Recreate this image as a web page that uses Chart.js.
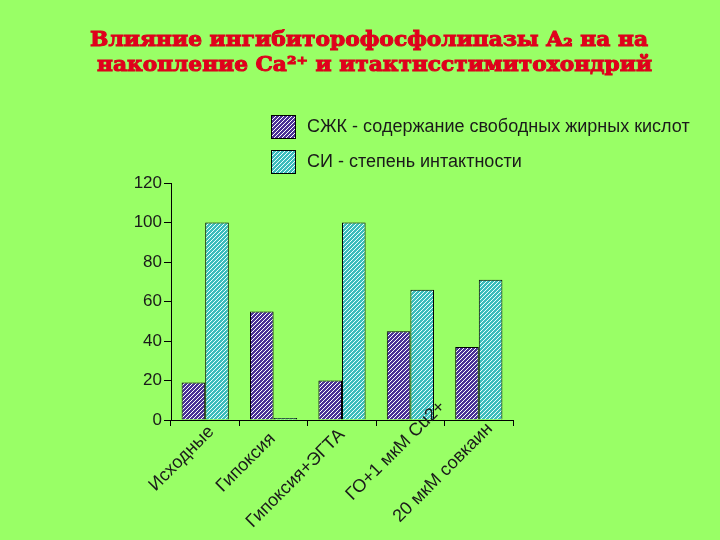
<!DOCTYPE html>
<html>
<head>
<meta charset="utf-8">
<title>Влияние ингибитора фосфолипазы A2</title>
<script src="https://cdn.jsdelivr.net/npm/chart.js@4.4.1/dist/chart.umd.min.js"></script>
<style>
    html, body {
        margin: 0;
        padding: 0;
        background: #99ff66;
    }
    .chart-box {
        position: relative;
        width: 720px;
        height: 540px;
    }
</style>
</head>
<body>
<div class="chart-box">
    <canvas id="chart"></canvas>
</div>
<script>
const titleLines = [
    "Влияние ингибиторофосфолипазы A₂ на на",
    "накопление Ca²⁺ и итактнсстимитохондрий"
];
const categories = ["Исходные", "Гипоксия", "Гипоксия+ЭГТА", "ГО+1 мкМ Cu2+", "20 мкМ совкаин"];
const seriesNames = ["СЖК - содержание свободных жирных кислот", "СИ - степень интактности"];
const ffaValues = [19, 55, 20, 45, 37];
const intactValues = [100, 1, 100, 66, 71];
const yTicks = [0, 20, 40, 60, 80, 100, 120];

// label nudges (px) to mimic the staggered slide labels
const labelShift = [[6, 9], [-1, 16], [0, 12], [32, -16], [11, 6]];

function makeHatch(base, line) {
    const tile = document.createElement("canvas");
    tile.width = 4;
    tile.height = 4;
    const ctx = tile.getContext("2d");
    ctx.fillStyle = base;
    ctx.fillRect(0, 0, 4, 4);
    ctx.fillStyle = line;
    for (let i = 0; i < 4; i++) {
        ctx.fillRect(i, 3 - i, 1, 1);
    }
    return ctx.createPattern(tile, "repeat");
}

const purpleHatch = makeHatch("#4a3296", "#ffffff");
const cyanHatch = makeHatch("#3cbcbc", "#e8ffff");

const decorPlugin = {
    id: "decor",
    afterDraw(chart) {
        const ctx = chart.ctx;
        const xScale = chart.scales.x;

        // title
        ctx.save();
        ctx.fillStyle = "#e0001c";
        ctx.strokeStyle = "#d8001a";
        ctx.lineWidth = 1;
        ctx.textAlign = "left";
        ctx.textBaseline = "alphabetic";
        const titleBoxes = [[90, 46, 558], [97, 71, 555]];
        titleLines.forEach((line, i) => {
            const [x, y, w] = titleBoxes[i];
            ctx.font = "bold 21px 'DejaVu Serif'";
            const measured = ctx.measureText(line).width;
            ctx.save();
            ctx.translate(x, y);
            ctx.scale(w / measured, 1);
            ctx.strokeText(line, 0, 0);
            ctx.fillText(line, 0, 0);
            ctx.restore();
        });
        ctx.restore();

        // legend
        ctx.save();
        ctx.font = "18px 'Liberation Sans'";
        ctx.textBaseline = "middle";
        ctx.textAlign = "left";
        chart.data.datasets.forEach((ds, i) => {
            const top = 115 + i * 35;
            ctx.fillStyle = ds.backgroundColor;
            ctx.fillRect(271, top, 25, 24);
            ctx.strokeStyle = "#000";
            ctx.lineWidth = 1;
            ctx.strokeRect(271.5, top + 0.5, 24, 23);
            ctx.fillStyle = "#1a1a1a";
            ctx.fillText(ds.label, 307, top + 12);
        });
        ctx.restore();

        // rotated category labels
        ctx.save();
        ctx.font = "18px 'Liberation Sans'";
        ctx.fillStyle = "#1a1a1a";
        ctx.textAlign = "right";
        ctx.textBaseline = "middle";
        chart.data.labels.forEach((label, i) => {
            const x = xScale.getPixelForValue(i) + labelShift[i][0];
            const y = xScale.top + labelShift[i][1];
            ctx.save();
            ctx.translate(x, y);
            ctx.rotate(-Math.PI / 4);
            ctx.fillText(label, 0, 0);
            ctx.restore();
        });
        ctx.restore();
    }
};

new Chart(document.getElementById("chart"), {
    type: "bar",
    data: {
        labels: categories,
        datasets: [
            {
                label: seriesNames[0],
                data: ffaValues,
                backgroundColor: purpleHatch,
                borderColor: "#000000",
                borderWidth: 1,
                borderSkipped: "bottom"
            },
            {
                label: seriesNames[1],
                data: intactValues,
                backgroundColor: cyanHatch,
                borderColor: "#000000",
                borderWidth: 1,
                borderSkipped: "bottom"
            }
        ]
    },
    options: {
        responsive: true,
        maintainAspectRatio: false,
        animation: false,
        categoryPercentage: 0.69,
        barPercentage: 1,
        layout: {
            padding: { left: 120, right: 207, top: 183, bottom: 100 }
        },
        scales: {
            x: {
                afterFit: (scale) => { scale.height = 20; },
                grid: {
                    drawOnChartArea: false,
                    drawTicks: true,
                    tickLength: 6,
                    color: "#000000"
                },
                border: { color: "#000000", width: 1 },
                ticks: { display: false }
            },
            y: {
                min: 0,
                max: 120,
                afterFit: (scale) => { scale.width = 51; },
                afterBuildTicks: (scale) => {
                    scale.ticks = yTicks.map((v) => ({ value: v }));
                },
                grid: {
                    drawOnChartArea: false,
                    drawTicks: true,
                    tickLength: 7,
                    color: "#000000"
                },
                border: { color: "#000000", width: 1 },
                ticks: {
                    color: "#1a1a1a",
                    padding: 2,
                    font: { family: "'Liberation Sans'", size: 17 }
                }
            }
        },
        plugins: {
            legend: { display: false },
            title: { display: false },
            tooltip: { enabled: false }
        }
    },
    plugins: [decorPlugin]
});
</script>
</body>
</html>
